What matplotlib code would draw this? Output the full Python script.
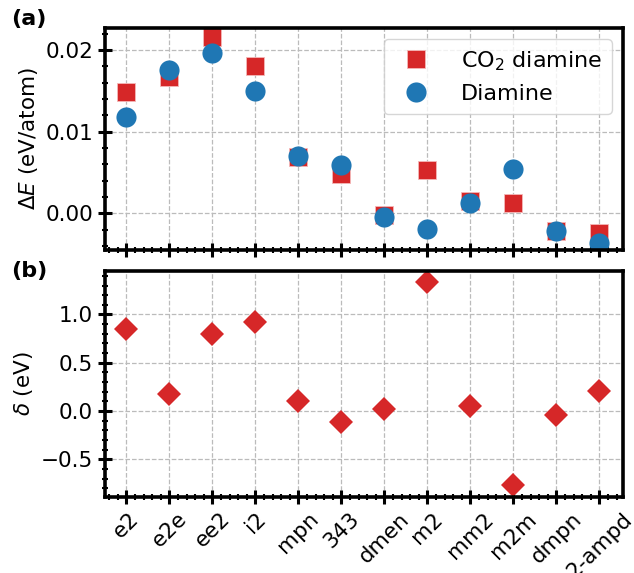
import numpy as np
from matplotlib import pyplot as plt
from matplotlib.ticker import MultipleLocator

# Diamine names along the x axis
names = ["e2", "e2e", "ee2", "i2", "mpn", "343", "dmen", "m2",
         "mm2", "m2m", "dmpn", "2-ampd"]

# Formation energy differences (eV/atom)
de_co2 = [0.0149, 0.0167, 0.0216, 0.0180, 0.0069, 0.0048,
          -0.0002, 0.0053, 0.0015, 0.0013, -0.0022, -0.0024]
de_diamine = [0.0118, 0.0175, 0.0196, 0.0150, 0.0070, 0.0059,
              -0.0005, -0.0019, 0.0013, 0.0054, -0.0022, -0.0036]

# Delta (eV)
delta = [0.85, 0.176, 0.80, 0.92, 0.107, -0.11,
         0.018, 1.34, 0.052, -0.77, -0.04, 0.21]

plt.rcParams["font.size"] = 15.5
plt.rcParams["axes.linewidth"] = 2.6

fig = plt.figure(figsize=(6.34, 5.73), dpi=100)
ax1 = fig.add_axes([0.1656, 0.5637, 0.817, 0.3874])
ax2 = fig.add_axes([0.1656, 0.1326, 0.817, 0.3944])

x = np.arange(len(names))

ax1.plot(x, de_co2, "s", color="tab:red", ms=13, mec="#f4b8b8", mew=0.6,
         ls="none", label=r"CO$_2$ diamine")
ax1.plot(x, de_diamine, "o", color="tab:blue", ms=14.5, mew=0,
         ls="none", label="Diamine")
ax1.set_ylim(-0.0045, 0.0227)
ax1.set_ylabel(r"$\Delta E$ (eV/atom)")
ax1.yaxis.set_minor_locator(MultipleLocator(0.002))
ax1.set_yticks([0.0, 0.01, 0.02], ["0.00", "0.01", "0.02"])
ax1.legend(loc="upper right", fontsize=16, handletextpad=1.0,
           borderpad=0.45, framealpha=0.8, borderaxespad=0.5)

ax2.plot(x, delta, "D", color="tab:red", ms=12, mew=0, ls="none")
ax2.set_ylim(-0.89, 1.45)
ax2.set_ylabel(r"$\delta$ (eV)")
ax2.yaxis.set_major_locator(MultipleLocator(0.5))
ax2.yaxis.set_minor_locator(MultipleLocator(0.1))

for ax in (ax1, ax2):
    ax.set_xlim(-0.5, 11.55)
    ax.set_xticks(x)
    ax.xaxis.set_minor_locator(MultipleLocator(0.2))
    ax.grid(True, ls="--", color="#bbbbbb", lw=0.9)
    ax.set_axisbelow(True)
    ax.tick_params(which="major", direction="inout", length=10, width=2.2)
    ax.tick_params(which="minor", direction="inout", length=5, width=1.5)

ax1.set_xticklabels([])
ax2.set_xticklabels(names, rotation=45)

fig.text(0.018, 0.967, "(a)", fontsize=16, fontweight="bold", va="center")
fig.text(0.018, 0.527, "(b)", fontsize=16, fontweight="bold", va="center")

fig.savefig("out.png", dpi=100)
